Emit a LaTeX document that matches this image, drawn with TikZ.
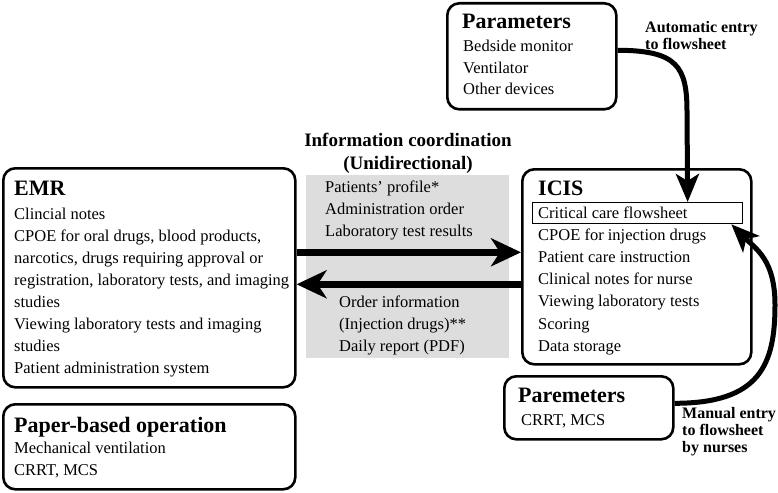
\documentclass[tikz,border=0pt]{standalone}
\usepackage{fontspec}
\setmainfont{Liberation Serif}
\usetikzlibrary{arrows.meta}
\definecolor{graybg}{RGB}{221,221,221}
\begin{document}
\begin{tikzpicture}[x=1pt,y=-1pt,
  box/.style={draw, line width=2.6pt, rounded corners=12pt, anchor=north west, inner sep=0pt},
  ttl/.style={anchor=base west, font=\fontsize{22}{26}\selectfont\bfseries, inner sep=0pt},
  itm/.style={anchor=base west, font=\fontsize{16.5}{20}\selectfont, inner sep=0pt},
  lbl/.style={anchor=base west, font=\fontsize{16}{17}\selectfont\bfseries, inner sep=0pt},
  hdr/.style={anchor=base, font=\fontsize{19}{23}\selectfont\bfseries, inner sep=0pt},
  bigarrow/.style={line width=6.5pt, -{Stealth[length=30pt,width=28pt,inset=9pt]}},
  curvearrow/.style={line width=5pt, -{Stealth[length=28pt,width=23pt,inset=7pt]}}]
\useasboundingbox (0,0) rectangle (778,492);

% grey coordination panel
\node[fill=graybg, anchor=north west, inner sep=0pt, minimum width=203pt, minimum height=183pt] (coord) at (306,175) {};

% boxes
\node[box, minimum width=292pt, minimum height=219pt] (emr) at (2,167) {};
\node[box, minimum width=292pt, minimum height=85pt] (paper) at (2,403) {};
\node[box, minimum width=229pt, minimum height=195pt] (icis) at (521,168) {};
\node[box, minimum width=169pt, minimum height=106pt] (ptop) at (446,2) {};
\node[box, minimum width=169pt, minimum height=63pt] (pbot) at (503,375) {};
\node[draw, line width=1.3pt, anchor=north west, inner sep=0pt, minimum width=210pt, minimum height=21pt] (flow) at (532,202) {};

% EMR
\node[ttl] (emrtitle) at (14,195) {EMR};
\foreach \t [count=\i] in {Clincial notes,{CPOE for oral drugs, blood products,},{narcotics, drugs requiring approval or},{registration, laboratory tests, and imaging},studies,Viewing laboratory tests and imaging,studies,Patient administration system}
  \node[itm] (emritem\i) at (14,{219+22*(\i-1)}) {\t};

% Paper-based
\node[ttl] (papertitle) at (14,432) {Paper-based operation};
\node[itm] (paperitem1) at (14,453) {Mechanical ventilation};
\node[itm] (paperitem2) at (14,475) {CRRT, MCS};

% ICIS
\node[ttl] (icistitle) at (538,195) {ICIS};
\foreach \t [count=\i] in {Critical care flowsheet,CPOE for injection drugs,Patient care instruction,Clinical notes for nurse,Viewing laboratory tests,Scoring,Data storage}
  \node[itm] (icisitem\i) at (538,{218+22.2*(\i-1)}) {\t};

% Parameters (top)
\node[ttl] (ptoptitle) at (462,28.5) {Parameters};
\node[itm] (ptopitem1) at (463,51.7) {Bedside monitor};
\node[itm] (ptopitem2) at (463,73.3) {Ventilator};
\node[itm] (ptopitem3) at (463,95) {Other devices};

% Paremeters (bottom)
\node[ttl] (pbottitle) at (518,402) {Paremeters};
\node[itm] (pbotitem1) at (521,425) {CRRT, MCS};

% coordination header and texts
\node[hdr] (hdr1) at (408,146) {Information coordination};
\node[hdr] (hdr2) at (408,169) {(Unidirectional)};
\node[itm] (to1) at (325,192) {Patients’ profile*};
\node[itm] (to2) at (325,214) {Administration order};
\node[itm] (to3) at (325,236) {Laboratory test results};
\node[itm] (from1) at (339,307) {Order information};
\node[itm] (from2) at (339,329) {(Injection drugs)**};
\node[itm] (from3) at (339,351) {Daily report (PDF)};

% labels
\node[lbl] (auto1) at (645,33) {Automatic entry};
\node[lbl] (auto2) at (645,50) {to flowsheet};
\node[lbl] (man1) at (682,418) {Manual entry};
\node[lbl] (man2) at (682,435) {to flowsheet};
\node[lbl] (man3) at (682,452) {by nurses};

% horizontal arrows
\draw[bigarrow] ([yshift=25.5pt]emr.east) -- ([yshift=14.5pt]icis.west);
\draw[bigarrow] ([yshift=-17.5pt]icis.west) -- ([yshift=-6.5pt]emr.east);

% curved arrows
\coordinate (autobend) at (687,112);
\draw[curvearrow] ([yshift=6pt]ptop.east) .. controls +(60,0) and +(0,-45) .. (autobend) -- ([xshift=50pt]flow.north);
\coordinate (manbend) at (775,305);
\draw[curvearrow] ([yshift=4.5pt]pbot.east) .. controls +(85,0) and +(0,60) .. (manbend) .. controls +(0,-45) and +(25,25) .. ([xshift=-12pt]flow.south east);
\end{tikzpicture}
\end{document}
